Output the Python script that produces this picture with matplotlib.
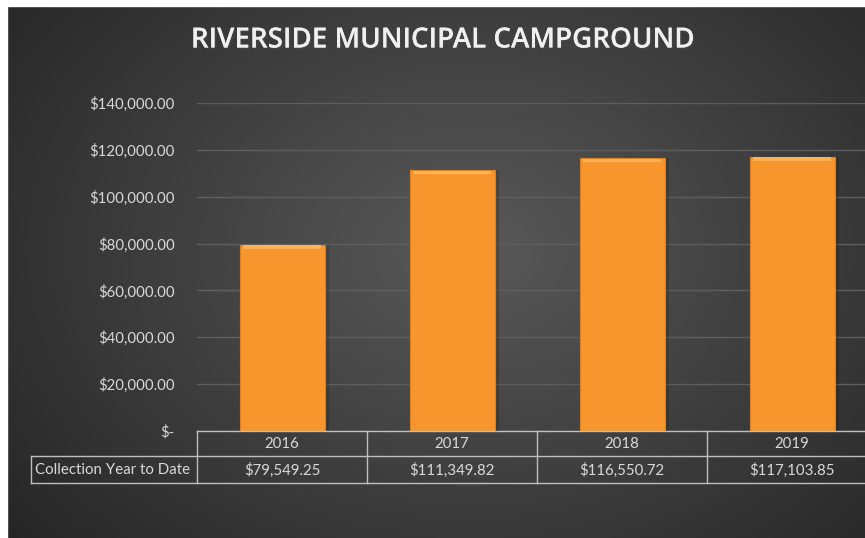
import numpy as np
import matplotlib.pyplot as plt
from matplotlib.lines import Line2D
from matplotlib.patches import Rectangle
import matplotlib.patheffects as pe

# datos
years = ['2016', '2017', '2018', '2019']
collected = [79549.25, 111349.82, 116550.72, 117103.85]
row_label = 'Collection Year to Date'
y_ticks = [0, 20000, 40000, 60000, 80000, 100000, 120000, 140000]

W, H = 865, 538
txt = '#D9D9D9'
font = 'Lato'
fs = 10.8

fig = plt.figure(figsize=(W / 100, H / 100), dpi=100)

# fondo con degradado radial
bg = fig.add_axes([0, 0, 1, 1], zorder=-10)
yy, xx = np.mgrid[0:H, 0:W]
r = np.sqrt(((xx - 470) / 560) ** 2 + ((yy - 250) / 420) ** 2)
shade = np.clip(0.35 - 0.19 * r, 0.14, 0.35)
bg.imshow(np.dstack([shade] * 3), extent=[0, W, H, 0], aspect='auto')
bg.add_patch(Rectangle((0, 0), W, 6, color='white', zorder=5))
bg.add_patch(Rectangle((0, 0), 7, H, color='white', zorder=5))
bg.set_xlim(0, W)
bg.set_ylim(H, 0)
bg.axis('off')

def fx(px):
    return px / W

def fy(py):
    return 1 - py / H

# ejes: 4 categorias de 170 px desde x=197, eje y de y=431 a y=103
x0, x1 = 197, 197 + 4 * 170
ax = fig.add_axes([fx(x0), fy(431), fx(x1 - x0), (431 - 103) / H])
ax.set_facecolor('none')
ax.set_xlim(-0.5, 3.5)
ax.set_ylim(0, 140000)

x = np.arange(len(years))
# sombra, barra y brillo superior
ax.bar(x + 0.025, collected, width=0.5, color='black', alpha=0.15, zorder=2)
ax.bar(x, collected, width=0.5, color='#F7962C', edgecolor='#DE801F', lw=0.8, zorder=3)
top = [v - 1800 for v in collected]
ax.bar(x, [1500] * 4, bottom=top, width=0.46, color='#FFB256', lw=0, zorder=4)

for t in y_ticks:
    ax.axhline(t, color='#5E5E5E', lw=1, zorder=1)
ax.set_yticks(y_ticks)
ax.set_yticklabels(['$-' if t == 0 else f'${t:,.2f}' for t in y_ticks],
                   color=txt, fontsize=fs, family=font)
ax.tick_params(axis='y', length=0, pad=16)
ax.set_xticks([])
for s in ax.spines.values():
    s.set_visible(False)

# tabla de datos bajo el eje
lc, lw = '#BFBFBF', 1
rows = [431, 456, 483]
def hline(py, xa, xb):
    fig.add_artist(Line2D([fx(xa), fx(xb)], [fy(py), fy(py)], color=lc, lw=lw))
def vline(px, ya, yb):
    fig.add_artist(Line2D([fx(px), fx(px)], [fy(ya), fy(yb)], color=lc, lw=lw))

hline(rows[0], x0, W)
hline(rows[1], 31, W)
hline(rows[2], 31, W)
vline(31, rows[1], rows[2])
for i in range(5):
    vline(x0 + i * 170, rows[0], rows[2])

for i, (yr, v) in enumerate(zip(years, collected)):
    fig.text(fx(x0 + 85 + i * 170), fy((rows[0] + rows[1]) / 2 + 1), yr,
             ha='center', va='center', color=txt, fontsize=fs, family=font)
    fig.text(fx(x0 + 85 + i * 170), fy((rows[1] + rows[2]) / 2 + 1), f'${v:,.2f}',
             ha='center', va='center', color=txt, fontsize=fs, family=font)
fig.text(fx(35), fy((rows[1] + rows[2]) / 2 + 1), row_label,
         ha='left', va='center', color=txt, fontsize=fs, family=font)

fig.text(fx(443), fy(40), 'RIVERSIDE MUNICIPAL CAMPGROUND', ha='center', va='center',
         color='#F0F0F0', fontsize=20, fontweight='semibold', family='Open Sans',
         path_effects=[pe.withSimplePatchShadow(offset=(1.5, -1.5), alpha=0.5), pe.Normal()])

fig.savefig('out.png', dpi=100)
